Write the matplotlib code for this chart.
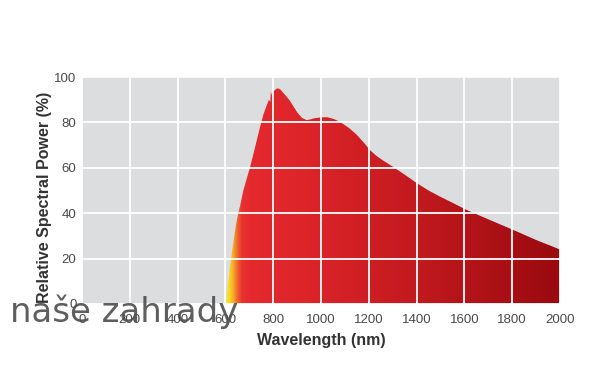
import numpy as np
import matplotlib
matplotlib.use("Agg")
import matplotlib.pyplot as plt
from matplotlib.colors import LinearSegmentedColormap, Normalize

# ---- data ----
wavelength = [603, 608, 613, 619, 626, 633, 640, 647, 655, 661, 668, 675, 690, 705,
              717, 730, 745, 759, 773, 782, 788, 790, 795, 805, 813, 820, 830, 840,
              855, 870, 885, 900, 920, 940, 955, 970, 1000, 1024, 1045, 1060, 1080,
              1094, 1120, 1150, 1180, 1205, 1230, 1260, 1300, 1350, 1400, 1450, 1500,
              1550, 1610, 1700, 1805, 1900, 2000]
power = [0, 6, 11, 16, 22, 27, 32, 36.5, 40.5, 43, 46.5, 50, 55.5, 61,
         66, 71.5, 78, 83.5, 87.5, 90, 89, 93.5, 92, 94, 94.8, 95, 94.5, 93.3,
         91.5, 89.5, 87, 84.5, 82, 81, 81.3, 81.8, 82.2, 82.3, 81.8, 81.2, 80.2,
         79.2, 77.3, 74.5, 71, 67.8, 65.4, 63.2, 60.5, 57, 53.3, 50, 47.2,
         44.6, 41.4, 37.3, 32.6, 28.2, 24]
x_ticks = [0, 200, 400, 600, 800, 1000, 1200, 1400, 1600, 1800, 2000]
y_ticks = [0, 20, 40, 60, 80, 100]
x_label = "Wavelength (nm)"
y_label = "Relative Spectral Power (%)"
watermark = "naše zahrady"

# gradient stops (wavelength nm -> colour)
grad_nm = [600, 614, 630, 648, 668, 700, 1000, 1400, 1600, 2000]
grad_col = ["#f7e81c", "#f7dc1e", "#f8b02a", "#ef6a2b", "#e8322f", "#e52a2e",
            "#da2328", "#c21a1f", "#b41419", "#9a0a0f"]

fig = plt.figure(figsize=(6, 3.84), dpi=100)
ax = fig.add_axes([82/600, 1-304/384, 478/600, 227/384])
ax.set_facecolor("#dcdddf")

x0, x1 = 0, 2000

# gradient fill clipped by the curve
pos = [(v - grad_nm[0]) / (grad_nm[-1] - grad_nm[0]) for v in grad_nm]
cmap = LinearSegmentedColormap.from_list("spec", list(zip(pos, grad_col)))
gx = np.linspace(grad_nm[0], grad_nm[-1], 1400).reshape(1, -1)
im = ax.imshow(gx, cmap=cmap, norm=Normalize(grad_nm[0], grad_nm[-1]),
               extent=[grad_nm[0], grad_nm[-1], 0, 100], aspect="auto",
               origin="lower", zorder=1, interpolation="bilinear")
poly = ax.fill_between(wavelength, power, 0, color="none", lw=0)
clip = poly.get_paths()[0]
im.set_clip_path(clip, transform=ax.transData)

ax.set_xlim(x0, x1)
ax.set_ylim(0, 100)

# grid
ax.set_xticks(x_ticks)
ax.set_yticks(y_ticks)
ax.set_axisbelow(False)
ax.grid(True, color="white", lw=1.3, zorder=3)
for s in ax.spines.values():
    s.set_visible(False)
ax.tick_params(length=0, labelsize=9.5, labelcolor="#4a4a4a")
ax.tick_params(axis="x", pad=7)
ax.tick_params(axis="y", pad=4)
for lab in ax.get_xticklabels() + ax.get_yticklabels():
    lab.set_fontfamily("Liberation Sans")

fig.text(321/600, 1-341/384, x_label, ha="center", va="center",
         fontsize=11.5, fontweight="bold", color="#333333", family="Liberation Sans")
fig.text(45/600, 1-197/384, y_label, ha="center", va="center", rotation=90,
         fontsize=11.5, fontweight="bold", color="#333333", family="Liberation Sans")

# watermark
fig.text(10/600, 1-322/384, watermark, ha="left", va="baseline",
         fontsize=24.5, color="#4d4d4d", alpha=0.9, family="DejaVu Sans")

fig.savefig("out.png", dpi=100)
